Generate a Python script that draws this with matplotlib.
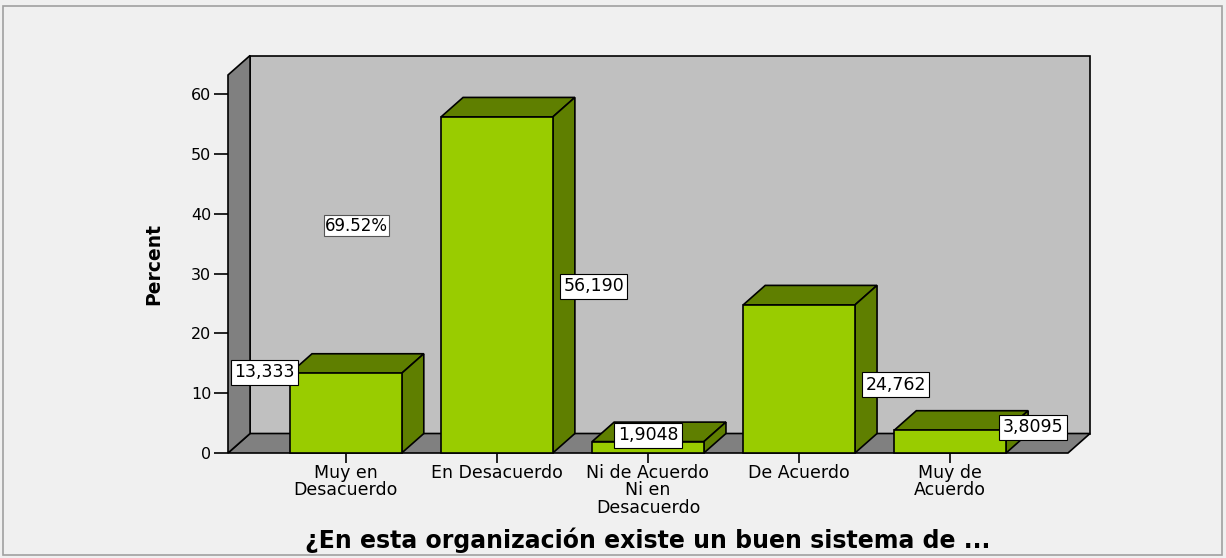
import numpy as np
import matplotlib.pyplot as plt
from matplotlib.patches import Polygon, Rectangle

# DATA
categories = ["Muy en\nDesacuerdo", "En Desacuerdo", "Ni de Acuerdo\nNi en\nDesacuerdo",
              "De Acuerdo", "Muy de\nAcuerdo"]
percent = [13.333, 56.190, 1.9048, 24.762, 3.8095]
y_ticks = [0, 10, 20, 30, 40, 50, 60]
note_text = "69.52%"
x_title = "¿En esta organización existe un buen sistema de ..."
y_title = "Percent"

# LAYOUT / STYLE
W, H = 1226, 558
FRONT = "#99cc00"
SHADE = "#5f7f00"
WALL = "#c0c0c0"
FLOOR = "#808080"
BAR_W = 0.74
XLIM = (-0.78, 4.78)
YLIM = (0, 63.2)
DX, DY = 0.146, 3.26          # depth offset in data units
# value label anchors: (x offset from bar centre, y position)
label_dx = [-0.54, 0.64, 0.0, 0.64, 0.55]
label_y = [13.5, 27.9, 3.0, 11.4, 4.3]
note_pos = (0.07, 38.0)

plt.rcParams['font.family'] = ['DejaVu Sans']

fig = plt.figure(figsize=(W / 100, H / 100), dpi=100, facecolor="#f0f0f0")
fig.patches.append(Rectangle((3 / W, 3 / H), 1219 / W, 549 / H, transform=fig.transFigure,
                             fill=False, edgecolor="#a0a0a0", lw=1.2))

ax = fig.add_axes([228 / W, 105 / H, 840 / W, 378 / H])
ax.set_xlim(*XLIM)
ax.set_ylim(*YLIM)
ax.set_facecolor("none")
for s in ax.spines.values():
    s.set_visible(False)

x0, x1 = XLIM
y0, y1 = YLIM
kw = dict(edgecolor="black", lw=1.2, clip_on=False)

# back wall, floor, left wall
ax.add_patch(Polygon([(x0 + DX, y0 + DY), (x1 + DX, y0 + DY), (x1 + DX, y1 + DY), (x0 + DX, y1 + DY)],
                     facecolor=WALL, zorder=1, **kw))
ax.add_patch(Polygon([(x0, y0), (x1, y0), (x1 + DX, y0 + DY), (x0 + DX, y0 + DY)],
                     facecolor=FLOOR, zorder=2, **kw))
ax.add_patch(Polygon([(x0, y0), (x0 + DX, y0 + DY), (x0 + DX, y1 + DY), (x0, y1)],
                     facecolor=FLOOR, zorder=2, **kw))

# 3D bars
for i, v in enumerate(percent):
    l, r = i - BAR_W / 2, i + BAR_W / 2
    ax.add_patch(Polygon([(l, v), (r, v), (r + DX, v + DY), (l + DX, v + DY)],
                         facecolor=SHADE, zorder=3, **kw))
    ax.add_patch(Polygon([(r, 0), (r + DX, DY), (r + DX, v + DY), (r, v)],
                         facecolor=SHADE, zorder=3, **kw))
    ax.bar(i, v, width=BAR_W, color=FRONT, edgecolor="black", lw=1.2, zorder=4, clip_on=False)

# value labels
box = dict(boxstyle="square,pad=0.2", facecolor="white", edgecolor="black", lw=0.8)
for i, v in enumerate(percent):
    txt = f"{v:#.5g}".replace(".", ",")
    ax.text(i + label_dx[i], label_y[i], txt, ha="center", va="center", fontsize=12.5,
            bbox=box, zorder=6, clip_on=False)
ax.text(note_pos[0], note_pos[1], note_text, ha="center", va="center", fontsize=12,
        bbox=dict(boxstyle="square,pad=0.08", facecolor="white", edgecolor="#555555", lw=0.8), zorder=6)

ax.set_yticks(y_ticks)
ax.set_xticks(range(len(categories)))
ax.set_xticklabels(categories, fontsize=12.5, linespacing=0.95)
ax.tick_params(axis="y", length=10, width=1.2, pad=2, labelsize=11.5)
ax.tick_params(axis="x", length=7, width=1.2, pad=1)
ax.set_ylabel(y_title, fontsize=13.5, fontweight="bold", labelpad=20)
ax.set_xlabel(x_title, fontsize=17, fontweight="bold", labelpad=8)

fig.savefig("out.png", dpi=100, facecolor=fig.get_facecolor())
